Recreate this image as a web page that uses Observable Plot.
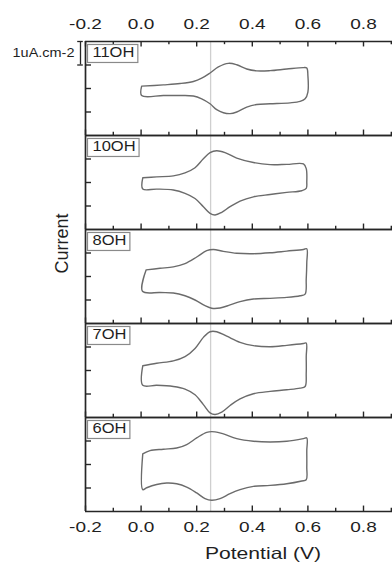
<!DOCTYPE html>
<html>
<head>
<meta charset="utf-8">
<script src="https://cdn.jsdelivr.net/npm/d3@7"></script>
<script src="https://cdn.jsdelivr.net/npm/@observablehq/plot@0.6"></script>
<style>
  html, body { margin: 0; padding: 0; background: #fff; overflow: hidden; }
  #chart { width: 392px; height: 564px; }
</style>
</head>
<body>
<div id="chart"></div>
<script>
// ---------- data ----------
const panels = ["11OH", "10OH", "8OH", "7OH", "6OH"];
const xTicks = [-0.2, 0.0, 0.2, 0.4, 0.6, 0.8];
const xTickLabels = ["-0.2", "0.0", "0.2", "0.4", "0.6", "0.8"];
const xMinorTicks = [-0.1, 0.1, 0.3, 0.5, 0.7, 0.9];
const yTicks = [-1, 0, 1];
const markerPotential = [0.25];
const scaleBarRange = [1, 2];
const scaleBarLabel = "1uA.cm-2";
const xLabel = "Potential (V)";
const yLabel = "Current";

// [potential (V), current (uA/cm2, relative to panel centre)]
const cv11OH = [[0.002,0.10],[0.080,0.155],[0.140,0.21],[0.188,0.30],[0.218,0.44],[0.248,0.66],[0.278,0.92],[0.314,1.07],[0.344,1.01],[0.380,0.83],[0.416,0.75],[0.464,0.76],[0.524,0.83],[0.584,0.89],[0.596,0.87],[0.600,0.55],[0.600,-0.15],[0.590,-0.44],[0.572,-0.55],[0.536,-0.61],[0.464,-0.65],[0.416,-0.68],[0.380,-0.79],[0.344,-1.00],[0.320,-1.07],[0.296,-1.03],[0.272,-0.90],[0.248,-0.65],[0.218,-0.44],[0.188,-0.32],[0.140,-0.30],[0.080,-0.30],[0.002,-0.30],[0.002,0.10]];
const cv10OH = [[0.006,0.20],[0.056,0.24],[0.116,0.28],[0.158,0.41],[0.194,0.63],[0.224,1.01],[0.248,1.27],[0.272,1.35],[0.302,1.27],[0.344,1.04],[0.404,0.85],[0.464,0.76],[0.524,0.77],[0.584,0.79],[0.594,0.59],[0.596,0.03],[0.594,-0.25],[0.578,-0.35],[0.524,-0.42],[0.464,-0.51],[0.404,-0.61],[0.356,-0.79],[0.320,-1.03],[0.290,-1.27],[0.266,-1.38],[0.248,-1.31],[0.224,-1.03],[0.194,-0.68],[0.158,-0.46],[0.116,-0.32],[0.056,-0.28],[0.006,-0.28],[0.006,0.20]];
const cv8OH = [[0.018,0.28],[0.068,0.35],[0.116,0.41],[0.158,0.55],[0.200,0.83],[0.236,1.10],[0.260,1.15],[0.296,1.07],[0.344,0.99],[0.404,0.97],[0.464,1.01],[0.524,1.08],[0.584,1.15],[0.596,1.18],[0.596,0.59],[0.594,-0.11],[0.590,-0.75],[0.572,-0.82],[0.524,-0.89],[0.464,-0.93],[0.404,-0.96],[0.356,-1.07],[0.320,-1.21],[0.284,-1.34],[0.254,-1.35],[0.230,-1.24],[0.194,-1.00],[0.158,-0.82],[0.116,-0.70],[0.068,-0.68],[0.005,-0.63],[0.018,0.28]];
const cv7OH = [[0.006,0.20],[0.056,0.31],[0.116,0.41],[0.158,0.59],[0.194,0.94],[0.224,1.41],[0.248,1.65],[0.272,1.65],[0.308,1.46],[0.356,1.20],[0.404,1.06],[0.464,1.01],[0.524,1.07],[0.584,1.15],[0.594,1.17],[0.594,0.59],[0.594,-0.11],[0.590,-0.68],[0.572,-0.75],[0.524,-0.82],[0.464,-0.89],[0.404,-0.99],[0.356,-1.21],[0.320,-1.49],[0.290,-1.77],[0.266,-1.87],[0.248,-1.80],[0.224,-1.45],[0.194,-1.03],[0.158,-0.79],[0.116,-0.68],[0.056,-0.63],[0.006,-0.63],[0.006,0.20]];
const cv6OH = [[0.006,0.45],[0.032,0.59],[0.080,0.65],[0.128,0.70],[0.164,0.85],[0.200,1.13],[0.236,1.37],[0.266,1.39],[0.296,1.30],[0.344,1.10],[0.404,0.99],[0.464,0.96],[0.524,0.99],[0.584,1.10],[0.596,1.13],[0.596,0.59],[0.596,-0.11],[0.594,-0.65],[0.578,-0.70],[0.524,-0.82],[0.464,-0.89],[0.404,-0.93],[0.356,-1.07],[0.320,-1.24],[0.284,-1.45],[0.254,-1.52],[0.230,-1.45],[0.200,-1.21],[0.164,-0.96],[0.128,-0.82],[0.092,-0.79],[0.056,-0.85],[0.020,-0.99],[0.006,-1.07],[0.006,0.45]];
const curves = [cv11OH, cv10OH, cv8OH, cv7OH, cv6OH];

// ---------- layout ----------
const W = 392, H = 564, mT = 39, mB = 51, mL = 85;
const pxPerV = 278;
const facetH = (H - mT - mB) / panels.length;
const pxPerI = facetH / 4;
const axisColor = "#262626";
const textColor = "#1f1f1f";

const cvData = panels.flatMap((p, i) => curves[i].map(([v, c]) => ({panel: p, v, c})));
const topP = panels[0], botP = panels[panels.length - 1];
const topMajor = xTicks.map((v, i) => ({v, label: xTickLabels[i], panel: topP}));
const botMajor = xTicks.map((v, i) => ({v, label: xTickLabels[i], panel: botP}));
const topMinor = xMinorTicks.map(v => ({v, panel: topP}));

const plot = Plot.plot({
  width: W, height: H,
  marginTop: mT, marginBottom: mB, marginLeft: mL, marginRight: 0,
  style: {fontFamily: "'Liberation Sans', Arial, sans-serif", background: "white", color: "#222", overflow: "hidden"},
  x: {domain: [-0.2, 1.0], range: [mL, mL + 1.2 * pxPerV], axis: null},
  y: {domain: [-2, 2], axis: null},
  fy: {domain: panels, padding: 0, axis: null},
  marks: [
    Plot.ruleX(markerPotential, {stroke: "#cfcfcf", strokeWidth: 1.3}),
    Plot.line(cvData, {x: "v", y: "c", fy: "panel", z: "panel", curve: "catmull-rom", stroke: "#6b6b6b", strokeWidth: 1.4}),
    Plot.ruleY([-2, 2], {stroke: axisColor, strokeWidth: 1.7}),
    Plot.ruleX([-0.2], {stroke: axisColor, strokeWidth: 1.7}),
    // bottom ticks (inward)
    Plot.ruleX(xTicks, {y1: -2, y2: -2 + 5.5 / pxPerI, stroke: axisColor, strokeWidth: 1.4}),
    Plot.ruleX(xMinorTicks, {y1: -2, y2: -2 + 3.2 / pxPerI, stroke: axisColor, strokeWidth: 1.4}),
    // top ticks on first panel
    Plot.ruleX(topMajor, {x: "v", fy: "panel", y1: 2 - 5.5 / pxPerI, y2: 2, stroke: axisColor, strokeWidth: 1.4}),
    Plot.ruleX(topMinor, {x: "v", fy: "panel", y1: 2 - 3.2 / pxPerI, y2: 2, stroke: axisColor, strokeWidth: 1.4}),
    // left ticks
    Plot.ruleY(yTicks, {x1: -0.2, x2: -0.2 + 6 / pxPerV, stroke: axisColor, strokeWidth: 1.4}),
    // tick labels
    Plot.text(topMajor, {x: "v", y: 2, fy: "panel", text: "label", dy: -17, fontSize: 15, fill: textColor}),
    Plot.text(botMajor, {x: "v", y: -2, fy: "panel", text: "label", dy: 15.5, fontSize: 15, fill: textColor}),
    // panel labels
    Plot.text(panels, {fy: d => d, text: d => d, x: -0.2, y: 2, dx: 7, dy: 11, textAnchor: "start", lineAnchor: "middle", fontSize: 15, fill: textColor}),
    // scale bar
    Plot.ruleX([{panel: topP}], {x: -0.2, y1: scaleBarRange[0], y2: scaleBarRange[1], fy: "panel", dx: -5, stroke: axisColor, strokeWidth: 1.3}),
    Plot.ruleY(scaleBarRange.map(c => ({c, panel: topP})), {y: "c", fy: "panel", x1: -0.2 - 2.8 / pxPerV, x2: -0.2 + 2.8 / pxPerV, dx: -5, stroke: axisColor, strokeWidth: 1.3}),
    Plot.text([{panel: topP, label: scaleBarLabel}], {fy: "panel", text: "label", x: -0.2, y: d3.mean(scaleBarRange), dx: -11, textAnchor: "end", lineAnchor: "middle", fontSize: 12.5, fill: textColor}),
    // axis titles
    Plot.text([{panel: botP, label: xLabel}], {fy: "panel", text: "label", frameAnchor: "bottom", dx: 24, dy: 42, lineAnchor: "middle", textAnchor: "middle", fontSize: 16.5, fill: textColor}),
    Plot.text([{panel: panels[2], label: yLabel}], {fy: "panel", text: "label", frameAnchor: "left", dx: -23, dy: -33, rotate: -90, textAnchor: "middle", lineAnchor: "middle", fontSize: 18, fill: textColor})
  ]
});

document.getElementById("chart").appendChild(plot);

// post-process: the source figure is horizontally stretched, so widen horizontal glyphs; add label boxes
const svg = d3.select(plot);
const stretch = (el, k) => {
  const tr = el.getAttribute("transform") || "";
  el.setAttribute("transform", `${tr} scale(${k},1)`);
};
svg.selectAll("text").each(function() {
  const t = this.textContent;
  if (xTickLabels.includes(t)) stretch(this, 1.27);
  else if (t === xLabel) stretch(this, 1.28);
  else if (panels.includes(t)) stretch(this, 1.1);
  else if (t === scaleBarLabel) stretch(this, 1.16);
});
svg.selectAll("text").filter(function() { return panels.includes(this.textContent); }).each(function() {
  const bb = this.getBBox();
  const k = 1.1;
  const r = document.createElementNS("http://www.w3.org/2000/svg", "rect");
  const tr = (this.getAttribute("transform") || "").replace(/scale\([^)]*\)/, "");
  r.setAttribute("x", (bb.x) * k - 5);
  r.setAttribute("y", bb.y + 0.5);
  r.setAttribute("width", bb.width * k + 8.5);
  r.setAttribute("height", 18);
  r.setAttribute("fill", "white");
  r.setAttribute("stroke", "#8a8a8a");
  r.setAttribute("stroke-width", "1.2");
  if (tr.trim()) r.setAttribute("transform", tr);
  this.parentNode.insertBefore(r, this);
});
</script>
</body>
</html>
